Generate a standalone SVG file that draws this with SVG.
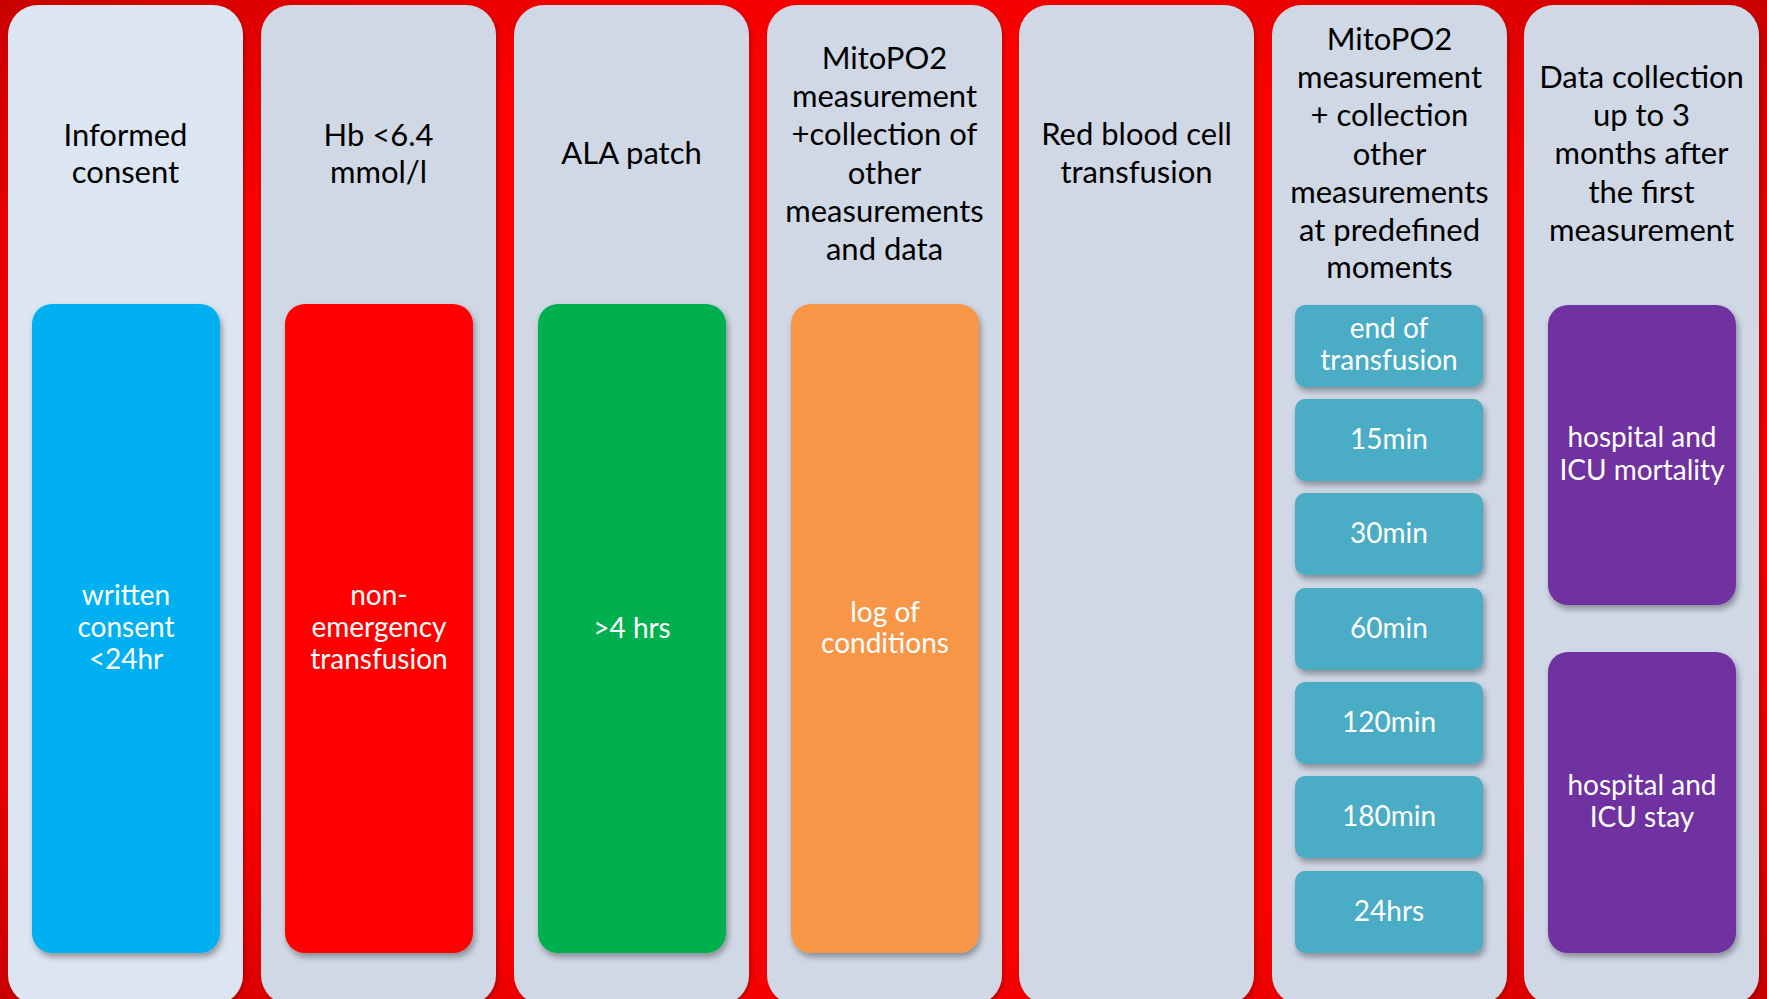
<svg xmlns="http://www.w3.org/2000/svg" width="1767" height="999" viewBox="0 0 1767 999">
<defs>
<radialGradient id="bg" cx="50%" cy="50%" r="75%">
<stop offset="0" stop-color="#ff0000"/>
<stop offset="0.6" stop-color="#ff0000"/>
<stop offset="1" stop-color="#c00000"/>
</radialGradient>
<filter id="sh" x="-10%" y="-10%" width="125%" height="125%">
<feDropShadow dx="2" dy="4" stdDeviation="3" flood-color="#000" flood-opacity="0.35"/>
</filter>
<filter id="csh" x="-10%" y="-5%" width="120%" height="110%">
<feDropShadow dx="2" dy="2" stdDeviation="2" flood-color="#600" flood-opacity="0.4"/>
</filter>
</defs>
<style>
.col{fill:#d0d8e6;filter:url(#csh)}
.col1{fill:#dce6f2}
.hd{font-family:Lato,"Open Sans",sans-serif;font-size:31px;fill:#000;text-anchor:middle}
.in{font-family:Lato,"Open Sans",sans-serif;font-size:28px;fill:#fff;text-anchor:middle}
.box{filter:url(#sh)}
</style>
<rect x="0" y="0" width="1767" height="999" fill="url(#bg)"/>

<g id="col1">
<rect class="col col1" x="8" y="5" width="235" height="1000" rx="30"/>
<text class="hd" x="125.5"><tspan x="125.5" y="146">Informed</tspan><tspan x="125.5" y="183">consent</tspan></text>
<rect class="box" x="32" y="304" width="188" height="649" rx="20" fill="#00b0f0"/>
<text class="in"><tspan x="126" y="605">written</tspan><tspan x="126" y="637">consent</tspan><tspan x="126" y="669">&lt;24hr</tspan></text>
</g>

<g id="col2">
<rect class="col" x="261" y="5" width="235" height="1000" rx="30"/>
<text class="hd"><tspan x="378.5" y="146">Hb &lt;6.4</tspan><tspan x="378.5" y="183">mmol/l</tspan></text>
<rect class="box" x="285" y="304" width="188" height="649" rx="20" fill="#ff0000"/>
<text class="in"><tspan x="379" y="605">non-</tspan><tspan x="379" y="637">emergency</tspan><tspan x="379" y="669">transfusion</tspan></text>
</g>

<g id="col3">
<rect class="col" x="514" y="5" width="235" height="1000" rx="30"/>
<text class="hd" x="631.5" y="164">ALA patch</text>
<rect class="box" x="538" y="304" width="188" height="649" rx="20" fill="#00b050"/>
<text class="in" x="632" y="638">&gt;4 hrs</text>
</g>

<g id="col4">
<rect class="col" x="767" y="5" width="235" height="1000" rx="30"/>
<text class="hd"><tspan x="884.5" y="69">MitoPO2</tspan><tspan x="884.5" y="107">measurement</tspan><tspan x="884.5" y="145">+collection  of</tspan><tspan x="884.5" y="184">other</tspan><tspan x="884.5" y="222">measurements</tspan><tspan x="884.5" y="260">and data</tspan></text>
<rect class="box" x="791" y="304" width="188" height="649" rx="20" fill="#f79646"/>
<text class="in"><tspan x="885" y="622">log of</tspan><tspan x="885" y="653">conditions</tspan></text>
</g>

<g id="col5">
<rect class="col" x="1019" y="5" width="235" height="1000" rx="30"/>
<text class="hd"><tspan x="1136.5" y="145">Red blood cell</tspan><tspan x="1136.5" y="183">transfusion</tspan></text>
</g>

<g id="col6">
<rect class="col" x="1272" y="5" width="235" height="1000" rx="30"/>
<text class="hd"><tspan x="1389.5" y="50">MitoPO2</tspan><tspan x="1389.5" y="88">measurement</tspan><tspan x="1389.5" y="126">+ collection</tspan><tspan x="1389.5" y="165">other</tspan><tspan x="1389.5" y="203">measurements</tspan><tspan x="1389.5" y="241">at predefined</tspan><tspan x="1389.5" y="278">moments</tspan></text>
<g id="t0"><rect class="box" x="1295" y="305" width="188" height="82" rx="10" fill="#4bacc6"/>
<text class="in"><tspan x="1389" y="338">end of</tspan><tspan x="1389" y="370">transfusion</tspan></text></g>
<g id="t1"><rect class="box" x="1295" y="399" width="188" height="82" rx="10" fill="#4bacc6"/>
<text class="in" x="1389" y="449">15min</text></g>
<g id="t2"><rect class="box" x="1295" y="493" width="188" height="82" rx="10" fill="#4bacc6"/>
<text class="in" x="1389" y="543">30min</text></g>
<g id="t3"><rect class="box" x="1295" y="588" width="188" height="82" rx="10" fill="#4bacc6"/>
<text class="in" x="1389" y="638">60min</text></g>
<g id="t4"><rect class="box" x="1295" y="682" width="188" height="82" rx="10" fill="#4bacc6"/>
<text class="in" x="1389" y="732">120min</text></g>
<g id="t5"><rect class="box" x="1295" y="776" width="188" height="82" rx="10" fill="#4bacc6"/>
<text class="in" x="1389" y="826">180min</text></g>
<g id="t6"><rect class="box" x="1295" y="871" width="188" height="82" rx="10" fill="#4bacc6"/>
<text class="in" x="1389" y="921">24hrs</text></g>
</g>

<g id="col7">
<rect class="col" x="1524" y="5" width="235" height="1000" rx="30"/>
<text class="hd"><tspan x="1641.5" y="88">Data collection</tspan><tspan x="1641.5" y="126">up to 3</tspan><tspan x="1641.5" y="164">months after</tspan><tspan x="1641.5" y="203">the first</tspan><tspan x="1641.5" y="241">measurement</tspan></text>
<g id="p1"><rect class="box" x="1548" y="305" width="188" height="300" rx="20" fill="#7030a0"/>
<text class="in"><tspan x="1642" y="447">hospital and</tspan><tspan x="1642" y="480">ICU mortality</tspan></text></g>
<g id="p2"><rect class="box" x="1548" y="652" width="188" height="301" rx="20" fill="#7030a0"/>
<text class="in"><tspan x="1642" y="795">hospital and</tspan><tspan x="1642" y="827">ICU stay</tspan></text></g>
</g>
<g id="connectors"/>
</svg>
